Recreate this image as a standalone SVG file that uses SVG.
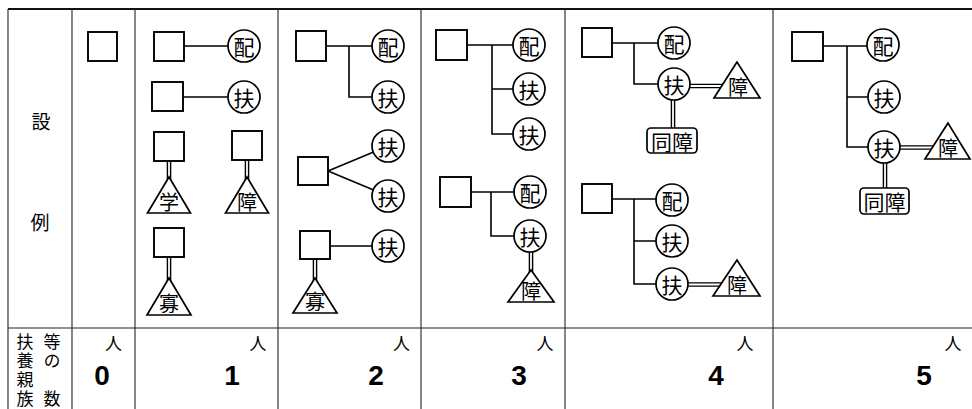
<svg xmlns="http://www.w3.org/2000/svg" width="972" height="409" viewBox="0 0 972 409">
<style>
.tb{stroke:#222;stroke-width:1.1;fill:none}
.tbt{stroke:#111;stroke-width:2;fill:none}
.ln{stroke:#000;stroke-width:1.6;fill:none}
.dbo{stroke:#000;stroke-width:4.6;fill:none}
.dbi{stroke:#fff;stroke-width:1.8;fill:none}
.sq{fill:#fff;stroke:#000;stroke-width:1.9}
.ci{fill:#fff;stroke:#000;stroke-width:1.7}
.tr{fill:#fff;stroke:#000;stroke-width:1.7;stroke-linejoin:miter}
.rr{fill:#fff;stroke:#000;stroke-width:1.7}
.j{font-family:"Noto Sans CJK JP",sans-serif;fill:#000;text-anchor:middle;dominant-baseline:central}
.vt{font-family:"Noto Sans CJK JP",sans-serif;fill:#000;font-size:17px;writing-mode:vertical-rl;letter-spacing:2px}
.jc{font-size:21px}
.jt{font-size:20px}
.jh{font-size:19px}
.jp{font-size:17px}
.num{font-family:"Liberation Sans",Arial,sans-serif;font-weight:bold;font-size:28px;text-anchor:middle;fill:#000}
</style>
<rect x="0" y="0" width="972" height="409" fill="#fff"/>
<g id="table">
<line class="tbt" x1="8" y1="9" x2="972" y2="9"/>
<line class="tb" x1="8" y1="9" x2="8" y2="409"/>
<line class="tb" x1="72" y1="9" x2="72" y2="409"/>
<line class="tb" x1="135" y1="9" x2="135" y2="409"/>
<line class="tb" x1="278" y1="9" x2="278" y2="409"/>
<line class="tb" x1="421" y1="9" x2="421" y2="409"/>
<line class="tb" x1="565" y1="9" x2="565" y2="409"/>
<line class="tb" x1="773" y1="9" x2="773" y2="409"/>
<line class="tb" x1="8" y1="328" x2="972" y2="328"/>
<text class="j jh" x="41" y="120">設</text>
<text class="j jh" x="40" y="221">例</text>
<text class="vt" x="25" y="333.5">扶養親族</text>
<text class="vt" x="52" y="333.5">等の</text>
<text class="vt" x="52" y="390.5">数</text>
<text class="j jp" x="113.5" y="342">人</text>
<text class="j jp" x="258" y="342">人</text>
<text class="j jp" x="401.5" y="342">人</text>
<text class="j jp" x="545" y="342">人</text>
<text class="j jp" x="745" y="342">人</text>
<text class="j jp" x="953" y="342">人</text>
<text class="num" x="102" y="385">0</text>
<text class="num" x="232" y="385">1</text>
<text class="num" x="376" y="385">2</text>
<text class="num" x="519" y="385">3</text>
<text class="num" x="716" y="385">4</text>
<text class="num" x="924" y="385">5</text>
</g>
<g id="connectors">
<path class="ln" d="M184,46H244M183,97H244"/>
<path class="ln" d="M326,46H388M349,46V97H388M328,171L388,146M328,171L388,196M330,246H388"/>
<path class="ln" d="M467,45H529M492,45V134H529M492,89H529M471,192H530M491,192V236H530"/>
<path class="ln" d="M612,43H674M634,43V84H674M612,199H672M634,199V284H672M634,241H672"/>
<path class="ln" d="M823,46H883M847,46V147H884M847,97H884"/>
<path class="dbo" d="M169,161V190M247,160V190M169,257V290M315,259V290M531,236V285M674,86H737M673,84V140M672,284.5H737M884,147.5H948M885,147V200"/>
<path class="dbi" d="M169,161V190M247,160V190M169,257V290M315,259V290M531,236V285M674,86H737M673,84V140M672,284.5H737M884,147.5H948M885,147V200"/>
</g>
<g id="c0-person"><rect class="sq" x="88" y="32" width="29" height="29"/></g>
<g id="c1-person1"><rect class="sq" x="154" y="32" width="30" height="29"/></g>
<g id="c1-spouse"><circle class="ci" cx="244" cy="46" r="16"/><text class="j jc" x="244" y="46">配</text></g>
<g id="c1-person2"><rect class="sq" x="152" y="82" width="31" height="29"/></g>
<g id="c1-dep"><circle class="ci" cx="244" cy="97" r="16"/><text class="j jc" x="244" y="97">扶</text></g>
<g id="c1-person3"><rect class="sq" x="154" y="132" width="30" height="29"/></g>
<g id="c1-student"><polygon class="tr" points="169,177 147.5,213 190.5,213"/><text class="j jt" x="169" y="201">学</text></g>
<g id="c1-person4"><rect class="sq" x="232" y="131" width="30" height="29"/></g>
<g id="c1-disabled"><polygon class="tr" points="247,177 225.5,213 268.5,213"/><text class="j jt" x="247" y="201">障</text></g>
<g id="c1-person5"><rect class="sq" x="154" y="228" width="30" height="29"/></g>
<g id="c1-widow"><polygon class="tr" points="169,278 147,315 191,315"/><text class="j jt" x="169" y="302">寡</text></g>
<g id="c2-person1"><rect class="sq" x="296" y="31" width="30" height="30"/></g>
<g id="c2-spouse"><circle class="ci" cx="388" cy="46" r="16"/><text class="j jc" x="388" y="46">配</text></g>
<g id="c2-dep1"><circle class="ci" cx="388" cy="97" r="16"/><text class="j jc" x="388" y="97">扶</text></g>
<g id="c2-person2"><rect class="sq" x="298" y="157" width="30" height="28"/></g>
<g id="c2-dep2"><circle class="ci" cx="388" cy="146" r="16"/><text class="j jc" x="388" y="146">扶</text></g>
<g id="c2-dep3"><circle class="ci" cx="388" cy="196" r="16"/><text class="j jc" x="388" y="196">扶</text></g>
<g id="c2-person3"><rect class="sq" x="300" y="231" width="30" height="28"/></g>
<g id="c2-dep4"><circle class="ci" cx="388" cy="246" r="16"/><text class="j jc" x="388" y="246">扶</text></g>
<g id="c2-widow"><polygon class="tr" points="315,278 293,313 337,313"/><text class="j jt" x="315" y="300">寡</text></g>
<g id="c3-person1"><rect class="sq" x="436" y="30" width="31" height="30"/></g>
<g id="c3-spouse"><circle class="ci" cx="529" cy="45" r="16"/><text class="j jc" x="529" y="45">配</text></g>
<g id="c3-dep1"><circle class="ci" cx="529" cy="89" r="16"/><text class="j jc" x="529" y="89">扶</text></g>
<g id="c3-dep2"><circle class="ci" cx="529" cy="134" r="16"/><text class="j jc" x="529" y="134">扶</text></g>
<g id="c3-person2"><rect class="sq" x="440" y="177" width="31" height="30"/></g>
<g id="c3-spouse2"><circle class="ci" cx="530" cy="192" r="16"/><text class="j jc" x="530" y="192">配</text></g>
<g id="c3-dep3"><circle class="ci" cx="530" cy="236" r="16"/><text class="j jc" x="530" y="236">扶</text></g>
<g id="c3-disabled"><polygon class="tr" points="531,270 508,302 554,302"/><text class="j jt" x="531" y="290">障</text></g>
<g id="c4-person1"><rect class="sq" x="582" y="28" width="30" height="29"/></g>
<g id="c4-spouse"><circle class="ci" cx="674" cy="43" r="16"/><text class="j jc" x="674" y="43">配</text></g>
<g id="c4-dep1"><circle class="ci" cx="674" cy="84" r="16"/><text class="j jc" x="674" y="84">扶</text></g>
<g id="c4-disabled1"><polygon class="tr" points="737,62 714,98 760,98"/><text class="j jt" x="738" y="86">障</text></g>
<g id="c4-cohab"><rect class="rr" x="647" y="128" width="50" height="25" rx="4"/><text class="j jc" x="672" y="140.5">同障</text></g>
<g id="c4-person2"><rect class="sq" x="582" y="184" width="30" height="29"/></g>
<g id="c4-spouse2"><circle class="ci" cx="672" cy="200" r="16"/><text class="j jc" x="672" y="200">配</text></g>
<g id="c4-dep2"><circle class="ci" cx="672" cy="241" r="16"/><text class="j jc" x="672" y="241">扶</text></g>
<g id="c4-dep3"><circle class="ci" cx="672" cy="284" r="16"/><text class="j jc" x="672" y="284">扶</text></g>
<g id="c4-disabled2"><polygon class="tr" points="737,260 713,296 760,296"/><text class="j jt" x="737" y="284">障</text></g>
<g id="c5-person"><rect class="sq" x="792" y="32" width="31" height="29"/></g>
<g id="c5-spouse"><circle class="ci" cx="883" cy="45" r="16"/><text class="j jc" x="883" y="45">配</text></g>
<g id="c5-dep1"><circle class="ci" cx="884" cy="97" r="16"/><text class="j jc" x="884" y="97">扶</text></g>
<g id="c5-dep2"><circle class="ci" cx="884" cy="147" r="16"/><text class="j jc" x="884" y="147">扶</text></g>
<g id="c5-disabled"><polygon class="tr" points="948,123 925,159 970,159"/><text class="j jt" x="948" y="147">障</text></g>
<g id="c5-cohab"><rect class="rr" x="860" y="188" width="49" height="26" rx="4"/><text class="j jc" x="884.5" y="201">同障</text></g>
</svg>
